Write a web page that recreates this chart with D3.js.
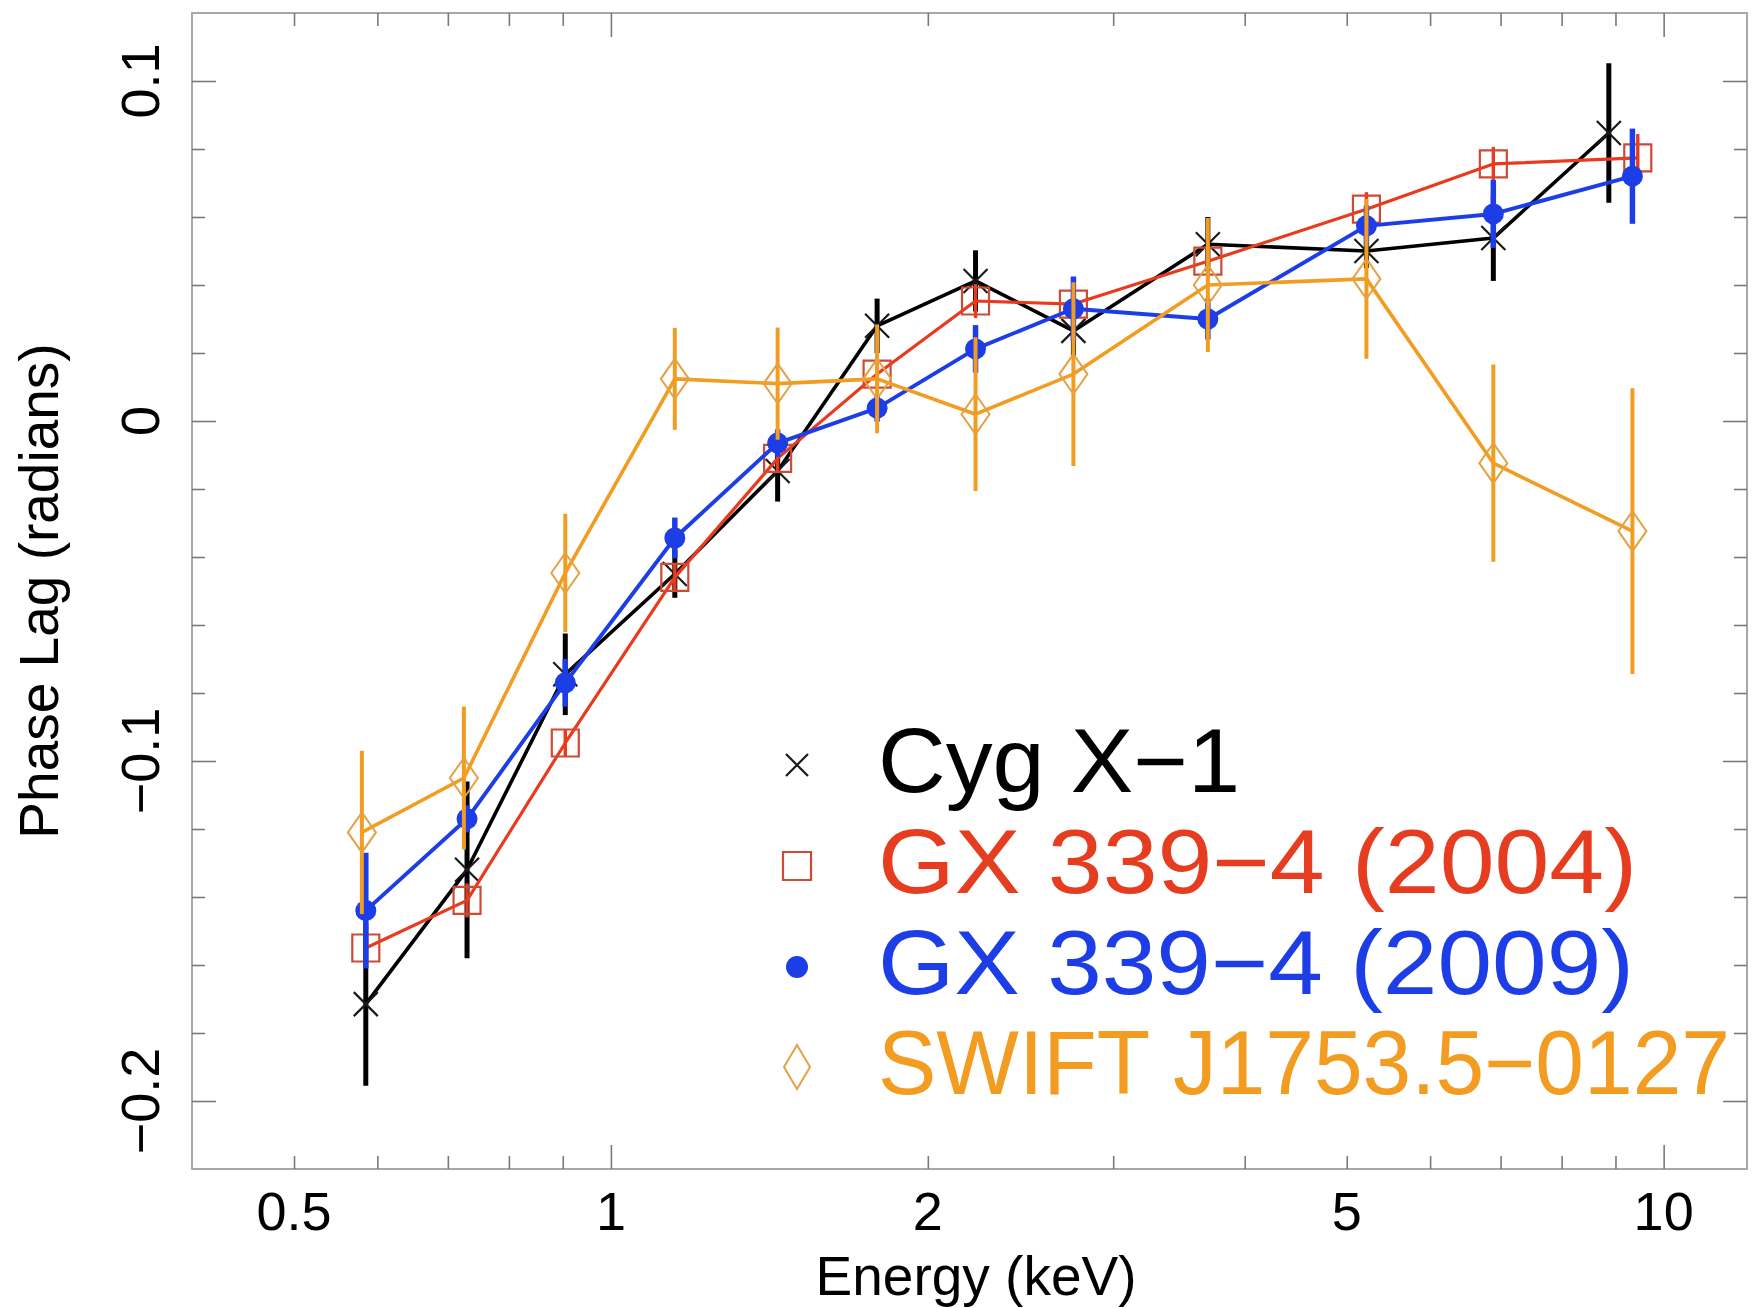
<!DOCTYPE html>
<html lang="en">
<head>
  <meta charset="UTF-8">
  <title>Phase Lag vs Energy</title>
  <script src="https://d3js.org/d3.v7.min.js"></script>
  <style>
    body { margin: 0; background: #fff; }
    svg { display: block; font-family: "Liberation Sans", Arial, Helvetica, sans-serif; }
    .frame { fill: none; stroke: #a8a8a8; stroke-width: 2px; }
    .ticks line { stroke: #7a7a7a; stroke-width: 1.6px; }
    .ticks path { display: none; }
    .tick-label { font-size: 54px; fill: #000; }
    .axis-title { font-size: 55px; fill: #000; }
    .legend-text { font-size: 90px; }
  </style>
</head>
<body>
  <svg id="chart" width="1764" height="1308"></svg>

  <script>
    // energies (keV), phase lags (radians) and 1-sigma errors
    const energyCyg  = [0.585, 0.73, 0.905, 1.15, 1.44, 1.79, 2.22, 2.75, 3.69, 5.22, 6.89, 8.87];
    const lagCyg     = [-0.1715, -0.132, -0.0745, -0.045, -0.0147, 0.028, 0.0412, 0.0265, 0.052, 0.050, 0.0538, 0.0847];
    const errCyg     = [0.024, 0.026, 0.012, 0.007, 0.009, 0.008, 0.009, 0.008, 0.008, 0.005, 0.0126, 0.0205];

    const energyGx04 = [0.585, 0.73, 0.905, 1.15, 1.44, 1.79, 2.22, 2.75, 3.69, 5.22, 6.89, 9.45];
    const lagGx04    = [-0.155, -0.141, -0.0947, -0.046, -0.011, 0.0138, 0.0353, 0.0344, 0.047, 0.0623, 0.0756, 0.0774];
    const errGx04    = [0.005, 0.005, 0.004, 0.004, 0.004, 0.005, 0.005, 0.005, 0.005, 0.005, 0.005, 0.007];

    const energyGx09 = [0.585, 0.73, 0.905, 1.15, 1.44, 1.79, 2.22, 2.75, 3.69, 5.22, 6.89, 9.34];
    const lagGx09    = [-0.144, -0.117, -0.077, -0.0344, -0.0065, 0.0038, 0.0212, 0.033, 0.030, 0.0574, 0.0609, 0.072];
    const errGx09    = [0.017, 0.004, 0.007, 0.006, 0.004, 0.004, 0.007, 0.0095, 0.006, 0.006, 0.01, 0.014];

    const energySwift = [0.58, 0.725, 0.905, 1.15, 1.44, 1.79, 2.22, 2.75, 3.69, 5.22, 6.89, 9.34];
    const lagSwift    = [-0.121, -0.105, -0.0447, 0.0124, 0.011, 0.0124, 0.002, 0.0138, 0.040, 0.0418, -0.0124, -0.0324];
    const errSwift    = [0.024, 0.021, 0.0174, 0.015, 0.0165, 0.016, 0.0226, 0.027, 0.0197, 0.0235, 0.029, 0.042];

    const seriesNames = ['Cyg X\u22121', 'GX 339\u22124 (2004)', 'GX 339\u22124 (2009)', 'SWIFT J1753.5\u22120127'];

    const xLabelTicks = [0.5, 1, 2, 5, 10];
    const xMajorTicks = [1, 10];
    const xMinorTicks = [0.5, 0.6, 0.7, 0.8, 0.9, 2, 3, 4, 5, 6, 7, 8, 9];
    const yLabelTicks = [-0.2, -0.1, 0, 0.1];
    const yMinorTicks = [-0.18, -0.16, -0.14, -0.12, -0.08, -0.06, -0.04, -0.02, 0.02, 0.04, 0.06, 0.08];

    const plotL = 192, plotR = 1747, plotT = 13, plotB = 1169;
    const svg = d3.select('#chart');

    const x = d3.scaleLog().domain([0.4, 12]).range([plotL, plotR]);
    const y = d3.scaleLinear().domain([-0.22, 0.12]).range([plotB, plotT]);

    // frame
    svg.append('rect').attr('class', 'frame')
      .attr('x', plotL).attr('y', plotT)
      .attr('width', plotR - plotL).attr('height', plotB - plotT);

    // inward ticks on all four sides
    const majorLen = 24, minorLen = 13;
    function tickAxis(axisFn, scale, values, len, tx, ty) {
      svg.append('g').attr('class', 'ticks')
        .attr('transform', `translate(${tx},${ty})`)
        .call(axisFn(scale).tickValues(values).tickSize(len).tickSizeOuter(0).tickFormat(''));
    }
    tickAxis(d3.axisBottom, x, xMajorTicks, -majorLen, 0, plotB);
    tickAxis(d3.axisBottom, x, xMinorTicks, -minorLen, 0, plotB);
    tickAxis(d3.axisTop, x, xMajorTicks, -majorLen, 0, plotT);
    tickAxis(d3.axisTop, x, xMinorTicks, -minorLen, 0, plotT);
    tickAxis(d3.axisLeft, y, yLabelTicks, -majorLen, plotL, 0);
    tickAxis(d3.axisLeft, y, yMinorTicks, -minorLen, plotL, 0);
    tickAxis(d3.axisRight, y, yLabelTicks, -majorLen, plotR, 0);
    tickAxis(d3.axisRight, y, yMinorTicks, -minorLen, plotR, 0);

    // tick labels
    svg.append('g').selectAll('text').data(xLabelTicks).join('text')
      .attr('class', 'tick-label')
      .attr('x', d => x(d)).attr('y', 1230)
      .attr('text-anchor', 'middle')
      .text(d => d);

    const yFmt = d => d === 0 ? '0' : d3.format('.1f')(d);
    svg.append('g').selectAll('text').data(yLabelTicks).join('text')
      .attr('class', 'tick-label')
      .attr('transform', d => `translate(159,${y(d)}) rotate(-90)`)
      .attr('text-anchor', 'middle')
      .text(yFmt);

    // axis titles
    svg.append('text').attr('class', 'axis-title')
      .attr('x', 976).attr('y', 1295)
      .attr('text-anchor', 'middle')
      .text('Energy (keV)');
    svg.append('text').attr('class', 'axis-title')
      .attr('transform', `translate(58,${(plotT + plotB) / 2}) rotate(-90)`)
      .attr('text-anchor', 'middle')
      .text('Phase Lag (radians)');

    // marker shapes
    const crossPath = s => `M${-s},${-s}L${s},${s}M${-s},${s}L${s},${-s}`;
    const squarePath = s => `M${-s},${-s}H${s}V${s}H${-s}Z`;
    const diamondPath = (w, h) => `M0,${-h}L${w},0L0,${h}L${-w},0Z`;

    const series = [
      { name: seriesNames[0], e: energyCyg, v: lagCyg, err: errCyg,
        line: '#000000', lw: 3.6, ew: 5, text: '#000000', marker: 'cross', mcol: '#1a1a1a' },
      { name: seriesNames[1], e: energyGx04, v: lagGx04, err: errGx04,
        line: '#ea3a1e', lw: 3.2, ew: 3.4, text: '#e63c20', marker: 'square', mcol: '#cf4a35' },
      { name: seriesNames[2], e: energyGx09, v: lagGx09, err: errGx09,
        line: '#1d3ee6', lw: 3.9, ew: 5.5, text: '#1d3ee6', marker: 'dot', mcol: '#1d3ee6' },
      { name: seriesNames[3], e: energySwift, v: lagSwift, err: errSwift,
        line: '#f29c22', lw: 3.6, ew: 4, text: '#f29c22', marker: 'diamond', mcol: '#e3a245' }
    ];

    function drawMarker(g, type, col, cx, cy, legend) {
      if (type === 'cross') {
        const s = legend ? 11 : 12;
        g.append('path').attr('d', crossPath(s))
          .attr('transform', `translate(${cx},${cy})`)
          .attr('fill', 'none').attr('stroke', col).attr('stroke-width', 2.2);
      } else if (type === 'square') {
        g.append('path').attr('d', squarePath(legend ? 14 : 13.5))
          .attr('transform', `translate(${cx},${cy})`)
          .attr('fill', 'none').attr('stroke', col).attr('stroke-width', 2.2);
      } else if (type === 'dot') {
        g.append('circle').attr('cx', cx).attr('cy', cy).attr('r', legend ? 11 : 10.5)
          .attr('fill', col);
      } else {
        g.append('path').attr('d', legend ? diamondPath(13, 22) : diamondPath(14, 20))
          .attr('transform', `translate(${cx},${cy})`)
          .attr('fill', 'none').attr('stroke', col).attr('stroke-width', 2);
      }
    }

    const line = d3.line().x(d => x(d.e)).y(d => y(d.v));

    series.forEach(s => {
      const pts = s.e.map((e, i) => ({ e, v: s.v[i], err: s.err[i] }));
      const g = svg.append('g');
      g.append('path').datum(pts)
        .attr('d', line)
        .attr('fill', 'none')
        .attr('stroke', s.line)
        .attr('stroke-width', s.lw)
        .attr('stroke-linejoin', 'round');
      g.selectAll('line.err').data(pts).join('line')
        .attr('class', 'err')
        .attr('x1', d => x(d.e)).attr('x2', d => x(d.e))
        .attr('y1', d => y(d.v + d.err)).attr('y2', d => y(d.v - d.err))
        .attr('stroke', s.line)
        .attr('stroke-width', s.ew);
      pts.forEach(d => drawMarker(g, s.marker, s.mcol, x(d.e), y(d.v), false));
    });

    // legend
    const legendY = [792, 893, 994, 1094];
    const legendWidths = [362, 759, 756, 852];
    const lg = svg.append('g');
    series.forEach((s, i) => {
      drawMarker(lg, s.marker, s.mcol, 797, legendY[i] - 27, true);
      lg.append('text').attr('class', 'legend-text')
        .attr('x', 878).attr('y', legendY[i])
        .attr('fill', s.text)
        .attr('textLength', legendWidths[i])
        .attr('lengthAdjust', 'spacingAndGlyphs')
        .text(s.name);
    });
  </script>
</body>
</html>
